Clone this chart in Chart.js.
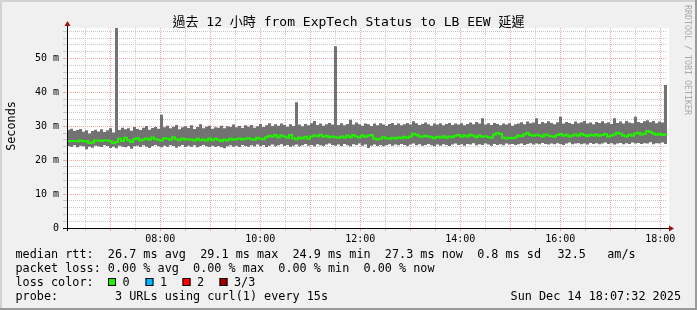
<!DOCTYPE html>
<html>
<head>
<meta charset="utf-8">
<script src="https://cdn.jsdelivr.net/npm/chart.js@4/dist/chart.umd.min.js"></script>
<style>
  html, body { margin: 0; padding: 0; background: #f0f0f0; }
  canvas { display: block; }
</style>
</head>
<body>
<canvas id="myChart" width="697" height="310"></canvas>
<script>
// SmokePing style latency graph, last 12 hours

// time axis (minutes since midnight), one sample every 3.6 min
const startMinute = 368;
const endMinute = 1088;
const sampleStep = 3.6;

const xTickMinutes = [480, 600, 720, 840, 960, 1080];
const xTickLabels = ["08:00", "10:00", "12:00", "14:00", "16:00", "18:00"];
const yTickValues = [0, 10, 20, 30, 40, 50];
const yTickLabels = ["0", "10 m", "20 m", "30 m", "40 m", "50 m"];
const yMax = 59;

// median round trip time (ms)
const medianRtt = [
  25.6, 25.7, 25.7, 25.6, 25.8, 25.6, 25.7, 25.1, 25.2, 25.8,
  25.8, 25.7, 25.9, 25.8, 25.6, 25.0, 25.4, 26.3, 25.7, 26.6,
  25.9, 25.4, 26.2, 26.5, 25.8, 26.1, 26.4, 26.0, 26.7, 26.2,
  26.0, 25.8, 26.5, 26.3, 26.0, 26.8, 26.2, 25.9, 26.4, 26.1,
  26.2, 26.0, 25.8, 26.3, 25.9, 26.1, 25.8, 26.4, 25.9, 26.3,
  26.0, 25.7, 26.1, 25.8, 26.3, 26.0, 26.2, 26.4, 26.1, 26.3,
  26.5, 26.2, 26.0, 26.6, 26.3, 26.2, 26.8, 27.2, 27.0, 27.4,
  26.8, 27.3, 27.0, 26.6, 27.4, 26.5, 26.2, 26.7, 26.4, 26.9,
  26.3, 27.0, 27.3, 27.1, 27.5, 26.9, 27.2, 26.8, 27.0, 26.8,
  26.6, 27.0, 26.7, 27.2, 26.8, 27.4, 27.0, 26.7, 27.3, 26.9,
  27.2, 27.4, 26.4, 26.1, 26.3, 26.8, 26.5, 26.3, 26.6, 26.4,
  26.7, 26.5, 26.9, 26.6, 27.0, 27.8, 27.5, 27.1, 26.9, 27.2,
  27.0, 26.8, 26.5, 26.9, 26.7, 27.1, 26.6, 27.0, 26.8, 27.2,
  27.4, 26.9, 27.3, 27.0, 27.5, 27.2, 26.8, 27.3, 26.9, 27.1,
  26.8, 26.6, 27.6, 28.0, 27.7, 26.6, 26.4, 26.6, 26.5, 26.7,
  27.3, 27.1, 27.6, 28.0, 27.4, 27.2, 27.5, 27.3, 27.0, 27.6,
  27.3, 27.1, 26.9, 27.4, 27.7, 27.2, 27.5, 27.0, 27.3, 27.6,
  27.2, 27.8, 27.4, 27.1, 27.5, 27.3, 27.6, 27.2, 27.4, 27.7,
  27.0, 27.3, 27.6, 28.1, 27.8, 27.3, 27.0, 27.5, 27.2, 27.9,
  28.1, 27.6, 27.8, 28.6, 28.3, 27.9, 27.5, 27.8, 27.4, 27.6
];

// highest ping of each sample (top of the smoke)
const smokeHigh = [
  29.0, 29.3, 28.6, 28.9, 29.2, 28.4, 28.8, 27.9, 28.6, 29.0,
  28.5, 29.1, 28.3, 28.8, 29.4, 28.2, 59.0, 28.9, 29.6, 29.1,
  29.4, 28.7, 29.8, 29.2, 28.9, 29.6, 30.1, 29.0, 29.5, 29.8,
  29.3, 33.4, 29.7, 30.2, 29.4, 29.9, 30.4, 29.1, 29.7, 30.0,
  29.5, 30.3, 29.2, 29.8, 30.6, 29.4, 29.9, 30.2, 29.3, 29.7,
  29.6, 30.2, 29.4, 30.0, 29.8, 30.5, 29.7, 30.1, 29.5, 30.3,
  29.9, 30.4, 29.6, 30.0, 30.7, 29.8, 30.3, 30.9, 30.1, 30.6,
  30.2, 30.8, 30.4, 29.9, 30.6, 30.1, 37.1, 30.5, 30.0, 30.7,
  30.3, 30.9, 31.6, 30.4, 30.8, 30.2, 30.6, 31.0, 30.5, 53.6,
  30.4, 30.9, 30.3, 30.7, 31.9, 30.5, 31.1, 30.6, 30.2, 30.8,
  30.6, 30.1, 30.8, 30.3, 30.9, 30.5, 30.2, 30.7, 31.0, 30.4,
  30.8, 30.3, 30.6, 31.0, 30.5, 31.5, 30.9, 30.4, 30.7, 31.1,
  30.6, 30.2, 30.8, 30.5, 30.9, 30.3, 30.7, 31.0, 30.4, 30.8,
  30.5, 30.9, 30.3, 30.7, 31.1, 30.6, 31.3, 30.8, 32.4, 30.5,
  30.9, 30.4, 31.0, 30.7, 30.3, 30.8, 30.5, 30.9, 30.2, 30.6,
  30.8, 31.2, 30.6, 31.4, 30.9, 31.1, 32.4, 30.7, 31.3, 30.9,
  31.5, 31.0, 30.6, 31.2, 32.8, 30.8, 31.3, 31.0, 30.7, 31.4,
  30.9, 31.2, 31.6, 30.8, 31.1, 30.6, 31.3, 31.0, 31.5, 30.9,
  31.2, 30.7, 32.4, 31.0, 31.4, 30.8, 31.6, 31.1, 30.9, 32.8,
  31.3, 31.0, 31.5, 31.8, 31.2, 31.6, 30.9, 31.4, 31.1, 42.2
];

// lowest ping of each sample (bottom of the smoke)
const smokeLow = [
  24.2, 24.0, 24.4, 23.8, 24.3, 24.1, 23.2, 24.0, 23.7, 24.3,
  24.1, 23.9, 24.4, 24.2, 23.6, 24.0, 23.5, 24.3, 24.0, 23.8,
  24.2, 23.4, 24.1, 24.3, 23.9, 24.4, 24.0, 23.6, 24.2, 24.5,
  24.1, 23.8, 24.3, 24.0, 24.4, 24.2, 23.7, 24.1, 24.5, 23.9,
  24.3, 24.0, 24.4, 23.8, 24.2, 24.5, 24.1, 23.9, 24.3, 24.0,
  24.2, 23.8, 23.5, 24.1, 24.4, 24.0, 24.3, 23.9, 24.5, 24.2,
  24.0, 24.4, 24.1, 24.6, 24.2, 24.5, 23.9, 24.3, 24.6, 24.1,
  24.4, 24.7, 24.2, 24.5, 24.0, 24.3, 24.6, 24.1, 24.4, 24.8,
  24.3, 24.5, 24.1, 24.7, 24.4, 24.2, 24.6, 24.9, 24.5, 24.3,
  24.6, 24.2, 24.8, 24.4, 24.1, 24.7, 24.5, 24.9, 24.3, 24.6,
  23.6, 24.3, 24.6, 24.2, 24.5, 24.1, 24.4, 24.7, 24.3, 24.6,
  24.4, 24.8, 24.5, 24.2, 24.6, 24.9, 24.4, 24.7, 24.3, 24.5,
  24.8, 24.4, 24.1, 24.6, 24.3, 24.7, 24.5, 24.2, 24.6, 24.9,
  24.5, 24.7, 24.3, 24.8, 24.6, 25.0, 24.4, 24.7, 24.5, 24.9,
  24.6, 24.3, 24.8, 24.5, 24.7, 24.4, 24.9, 24.6, 24.8, 24.5,
  24.7, 24.9, 24.5, 24.8, 25.0, 24.6, 24.9, 24.7, 25.1, 24.8,
  24.6, 24.9, 24.7, 25.0, 24.8, 24.5, 24.9, 25.2, 24.7, 24.9,
  25.0, 24.7, 24.9, 24.6, 25.1, 24.8, 25.0, 24.7, 24.9, 25.2,
  24.8, 25.0, 24.6, 24.9, 25.1, 24.7, 25.0, 24.8, 25.2, 24.9,
  25.1, 24.8, 25.0, 24.9, 25.3, 24.7, 25.0, 24.9, 25.2, 24.8
];

const lossLabels = ["0", "1", "2", "3/3"];
const lossColors = ["#22f000", "#00b4ff", "#ff0000", "#a00000"];

const titleText = "過去 12 小時 from ExpTech Status to LB EEW 延遲";
const medianLine = "median rtt:  26.7 ms avg  29.1 ms max  24.9 ms min  27.3 ms now  0.8 ms sd";
const rateText = "32.5   am/s";
const lossLine = "packet loss: 0.00 % avg  0.00 % max  0.00 % min  0.00 % now";
const probeLine = "probe:        3 URLs using curl(1) every 15s";
const dateText = "Sun Dec 14 18:07:32 2025";

// every sample holds its value until the next one
function toSteps(values) {
  const pts = values.map((v, i) => ({ x: startMinute + i * sampleStep, y: v }));
  pts.push({ x: endMinute, y: values[values.length - 1] });
  return pts;
}

const MONO = '"DejaVu Sans Mono", "Noto Sans CJK TC", monospace';
const RED_GRID = "#f2a6a6";
const GREY_GRID = "#c6c6c6";

const frame = {
  id: "frame",
  beforeDraw(chart) {
    const c = chart.ctx;
    const a = chart.chartArea;
    c.save();
    c.fillStyle = "#f0f0f0";
    c.fillRect(0, 0, 697, 310);
    c.fillStyle = "#d2d2d2";
    c.fillRect(0, 0, 697, 2);
    c.fillRect(0, 0, 2, 310);
    c.fillStyle = "#9a9a9a";
    c.fillRect(0, 308, 697, 2);
    c.fillRect(695, 0, 2, 310);
    c.fillStyle = "#ffffff";
    c.fillRect(a.left, a.top, a.right - a.left + 2, a.bottom - a.top);
    c.restore();
  },
  afterDraw(chart) {
    const c = chart.ctx;
    const a = chart.chartArea;
    c.save();

    // axes and arrows
    c.strokeStyle = "#000000";
    c.lineWidth = 1;
    c.beginPath();
    c.moveTo(a.left - 4, a.bottom + 0.5);
    c.lineTo(a.right + 3, a.bottom + 0.5);
    c.moveTo(a.left + 0.5, a.bottom + 3);
    c.lineTo(a.left + 0.5, a.top - 3);
    c.stroke();
    c.fillStyle = "#a01010";
    c.beginPath();
    c.moveTo(a.left + 0.5, a.top - 7);
    c.lineTo(a.left - 2.5, a.top - 2);
    c.lineTo(a.left + 3.5, a.top - 2);
    c.closePath();
    c.fill();
    c.beginPath();
    c.moveTo(a.right + 7, a.bottom + 0.5);
    c.lineTo(a.right + 2, a.bottom - 2.5);
    c.lineTo(a.right + 2, a.bottom + 3.5);
    c.closePath();
    c.fill();

    // title
    c.fillStyle = "#000000";
    c.textBaseline = "alphabetic";
    c.textAlign = "center";
    c.font = "13px " + MONO;
    c.fillText(titleText, 348.5, 26);

    // y axis title
    c.save();
    c.translate(15, 126);
    c.rotate(-Math.PI / 2);
    c.font = "11.8px " + MONO;
    c.fillText("Seconds", 0, 0);
    c.restore();

    // watermark
    c.save();
    c.translate(685, 5);
    c.rotate(Math.PI / 2);
    c.textAlign = "left";
    c.fillStyle = "#a9a9a9";
    c.font = "8.3px " + MONO;
    c.fillText("RRDTOOL / TOBI OETIKER", 0, 0);
    c.restore();

    // legend
    c.textAlign = "left";
    c.font = "11.8px " + MONO;
    c.fillStyle = "#000000";
    c.fillText(medianLine, 15.5, 258);
    c.fillText(rateText, 557.5, 258);
    c.fillText(lossLine, 15.5, 272);
    c.fillText("loss color:", 15.5, 286);
    const boxX = [108, 145.5, 182.5, 219.5];
    lossLabels.forEach((lab, i) => {
      c.fillStyle = lossColors[i];
      c.fillRect(boxX[i], 278, 8, 8);
      c.strokeStyle = "#000000";
      c.strokeRect(boxX[i] + 0.5, 278.5, 7, 7);
      c.fillStyle = "#000000";
      c.fillText(lab, boxX[i] + 14.5, 286);
    });
    c.fillText(probeLine, 15.5, 300);
    c.textAlign = "right";
    c.fillText(dateText, 681, 300);
    c.restore();
  }
};

function gridColour(value, majorStep) {
  return value % majorStep === 0 ? RED_GRID : GREY_GRID;
}

const ctx = document.getElementById("myChart");

new Chart(ctx, {
  type: "line",
  data: {
    datasets: [
      {
        label: "low",
        data: toSteps(smokeLow),
        stepped: true,
        borderColor: "rgba(0,0,0,0)",
        borderWidth: 0,
        pointRadius: 0,
        fill: false,
        order: 2,
      },
      {
        label: "smoke",
        data: toSteps(smokeHigh),
        stepped: true,
        borderColor: "rgba(0,0,0,0)",
        borderWidth: 0,
        pointRadius: 0,
        fill: "-1",
        backgroundColor: "#727272",
        order: 1,
      },
      {
        label: "median rtt",
        data: toSteps(medianRtt),
        stepped: true,
        borderColor: "#22f000",
        borderWidth: 2,
        pointRadius: 0,
        fill: false,
        order: 0,
      },
    ],
  },
  options: {
    responsive: false,
    animation: false,
    devicePixelRatio: 1,
    layout: { padding: { left: 0, right: 30, top: 28, bottom: 0 } },
    plugins: {
      legend: { display: false },
      tooltip: { enabled: false },
    },
    scales: {
      x: {
        type: "linear",
        min: startMinute,
        max: endMinute,
        afterFit: (s) => { s.height = 82; },
        afterBuildTicks: (s) => {
          const t = [];
          for (let m = 390; m <= endMinute; m += 30) t.push({ value: m });
          s.ticks = t;
        },
        ticks: {
          autoSkip: false,
          maxRotation: 0,
          padding: 2,
          color: "#000000",
          font: { family: MONO, size: 10 },
          callback: (v) => {
            const k = xTickMinutes.indexOf(v);
            return k < 0 ? "" : xTickLabels[k];
          },
        },
        grid: {
          color: (c) => gridColour(c.tick.value, 60),
          tickColor: (c) => gridColour(c.tick.value, 60),
          tickLength: 3,
          lineWidth: 1,
        },
        border: { display: false, dash: [1, 1] },
      },
      y: {
        min: 0,
        max: yMax,
        afterFit: (s) => { s.width = 67; },
        afterBuildTicks: (s) => {
          const t = [];
          for (let v = 0; v < yMax; v += 2) t.push({ value: v });
          s.ticks = t;
        },
        ticks: {
          autoSkip: false,
          padding: 4,
          color: "#000000",
          font: { family: MONO, size: 10 },
          callback: (v) => {
            const k = yTickValues.indexOf(v);
            return k < 0 ? "" : yTickLabels[k];
          },
        },
        grid: {
          color: (c) => gridColour(c.tick.value, 10),
          tickColor: (c) => gridColour(c.tick.value, 10),
          tickLength: 4,
          lineWidth: 1,
        },
        border: { display: false, dash: [1, 1] },
      },
    },
  },
  plugins: [frame],
});
</script>
</body>
</html>
